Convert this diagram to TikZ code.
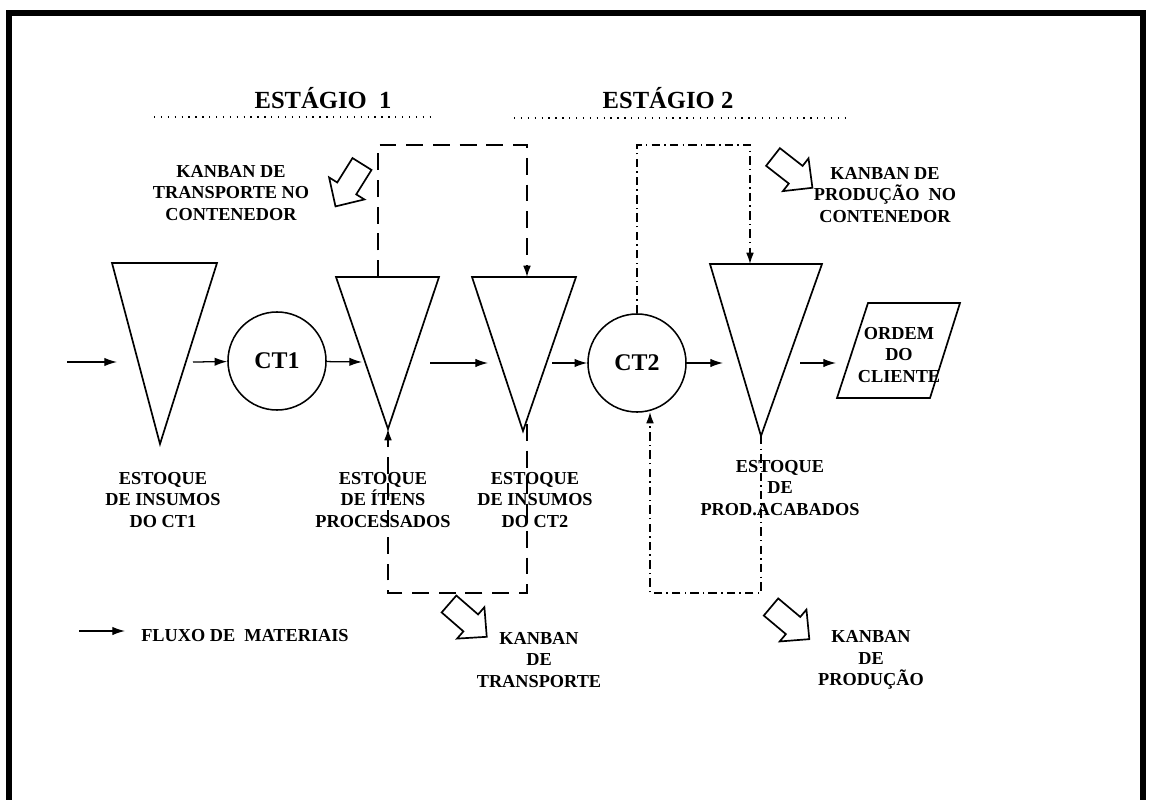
\documentclass[tikz,border=0pt]{standalone}
\usepackage{fontspec}
\setmainfont{Liberation Serif}
\usetikzlibrary{arrows.meta}

\begin{document}
\begin{tikzpicture}[x=0.025cm, y=-0.025cm,
    lbl/.style={align=center, inner sep=0pt, font=\fontsize{13}{15.3}\selectfont\bfseries},
    titulo/.style={inner sep=0pt, font=\fontsize{17.5}{20}\selectfont\bfseries},
    ct/.style={draw, circle, line width=1.1pt, minimum size=2.45cm, font=\fontsize{17}{20}\selectfont\bfseries},
    estoque/.style={draw, line width=1.2pt, line join=miter},
    flow/.style={-{Latex[length=9pt,width=6pt]}, line width=0.9pt},
    transp/.style={line width=1pt, dash pattern=on 12pt off 7pt, -{Latex[length=8pt,width=5.5pt]}},
    prod/.style={line width=1pt, dash pattern=on 6pt off 3pt on 1pt off 3pt, -{Latex[length=8pt,width=5.5pt]}},
    pontilhado/.style={line width=0.9pt, dash pattern=on 0.9pt off 4pt},
    kbarrow/.pic={\draw[line width=1.2pt, line join=miter] (0cm,0.28cm) -- (0.72cm,0.28cm) -- (0.72cm,0.52cm) -- (1.25cm,0cm) -- (0.72cm,-0.52cm) -- (0.72cm,-0.28cm) -- (0cm,-0.28cm) -- cycle;}
  ]
  \useasboundingbox (0,0) rectangle (1151,800);

  % Moldura
  \draw[line width=4.3pt] (9,800) -- (9,13) -- (1143,13) -- (1143,800);

  % Estagios
  \node[titulo] (est1) at (323,98) {ESTÁGIO\ \ 1};
  \node[titulo] (est2) at (668,98) {ESTÁGIO 2};
  \coordinate (p1a) at (154,117); \coordinate (p1b) at (430,117);
  \coordinate (p2a) at (514,118); \coordinate (p2b) at (848,118);
  \draw[pontilhado] (p1a) -- (p1b);
  \draw[pontilhado] (p2a) -- (p2b);

  % Estoques
  \coordinate (t1-l) at (112,263); \coordinate (t1-r) at (217,263); \coordinate (t1-a) at (160,444);
  \coordinate (t2-l) at (336,277); \coordinate (t2-r) at (439,277); \coordinate (t2-a) at (388,429);
  \coordinate (t3-l) at (472,277); \coordinate (t3-r) at (576,277); \coordinate (t3-a) at (523,431);
  \coordinate (t4-l) at (710,264); \coordinate (t4-r) at (822,264); \coordinate (t4-a) at (761,436);
  \draw[estoque] (t1-l) -- (t1-r) -- (t1-a) -- cycle;
  \draw[estoque] (t2-l) -- (t2-r) -- (t2-a) -- cycle;
  \draw[estoque] (t3-l) -- (t3-r) -- (t3-a) -- cycle;
  \draw[estoque] (t4-l) -- (t4-r) -- (t4-a) -- cycle;

  % Centros de trabalho
  \node[ct] (ct1) at (277,361) {CT1};
  \node[ct] (ct2) at (637,363) {CT2};

  % Ordem do cliente
  \coordinate (o-tl) at (868,303); \coordinate (o-tr) at (960,303);
  \coordinate (o-br) at (930,398); \coordinate (o-bl) at (837,398);
  \draw[estoque] (o-tl) -- (o-tr) -- (o-br) -- (o-bl) -- cycle;
  \node[lbl] (ordem) at (899,355) {ORDEM\\DO\\CLIENTE};

  % Fluxo de materiais
  \coordinate (in1) at (67,362); \coordinate (t1-in) at (117,362);
  \coordinate (t1-out) at (193,362); \coordinate (t2-in) at (362,362);
  \coordinate (t2-out) at (430,363); \coordinate (t3-in) at (488,363);
  \coordinate (t3-out) at (552,363); \coordinate (t4-in) at (723,363);
  \coordinate (t4-out) at (800,363); \coordinate (o-in) at (836,363);
  \draw[flow] (in1) -- (t1-in);
  \draw[flow] (t1-out) -- (ct1);
  \draw[flow] (ct1) -- (t2-in);
  \draw[flow] (t2-out) -- (t3-in);
  \draw[flow] (t3-out) -- (ct2);
  \draw[flow] (ct2) -- (t4-in);
  \draw[flow] (t4-out) -- (o-in);

  % Kanban de transporte
  \coordinate (t2-topo) at (378,277); \coordinate (kt2) at (527,145); \coordinate (t3-topo) at (527,277);
  \coordinate (t3-base) at (527,424); \coordinate (kb2) at (388,593);
  \draw[transp] (t2-topo) |- (kt2) -- (t3-topo);
  \draw[transp] (t3-base) |- (kb2) -- (t2-a);

  % Kanban de producao
  \coordinate (kp2) at (750,145); \coordinate (t4-topo) at (750,264);
  \coordinate (kp4) at (650,593); \coordinate (ct2-base) at (650,412);
  \draw[prod] (ct2.north) |- (kp2) -- (t4-topo);
  \draw[prod] (t4-a) |- (kp4) -- (ct2-base);

  % Setas dos cartoes
  \pic[rotate=-122] at (362,164) {kbarrow};
  \pic[rotate=-38] at (773,157) {kbarrow};
  \pic[rotate=-41] at (449,604) {kbarrow};
  \pic[rotate=-40] at (771,607) {kbarrow};

  % Textos
  \node[lbl] (kbtc) at (231,193) {KANBAN DE\\TRANSPORTE NO\\CONTENEDOR};
  \node[lbl] (kbpc) at (885,195) {KANBAN DE\\PRODUÇÃO\ \ NO\\CONTENEDOR};
  \node[lbl] (e1) at (163,500) {ESTOQUE\\DE INSUMOS\\DO CT1};
  \node[lbl] (e2) at (383,500) {ESTOQUE\\DE ÍTENS\\PROCESSADOS};
  \node[lbl] (e3) at (535,500) {ESTOQUE\\DE INSUMOS\\DO CT2};
  \node[lbl] (e4) at (780,488) {ESTOQUE\\DE\\PROD.ACABADOS};
  \node[lbl] (kbt) at (539,660) {KANBAN\\DE\\TRANSPORTE};
  \node[lbl] (kbp) at (871,660) {KANBAN\\DE\\PRODUÇÃO};

  % Legenda
  \coordinate (leg-a) at (79,631); \coordinate (leg-b) at (125,631);
  \draw[flow] (leg-a) -- (leg-b);
  \node[lbl, anchor=west] (leg) at (141,636) {FLUXO DE\ \ MATERIAIS};
\end{tikzpicture}
\end{document}
